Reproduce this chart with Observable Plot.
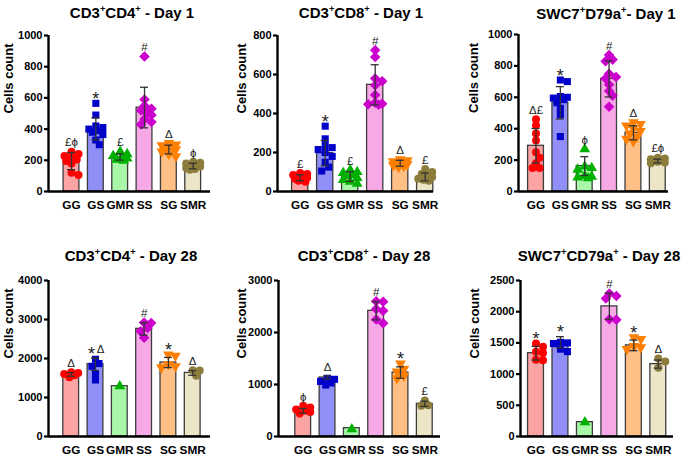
<!DOCTYPE html>
<html>
<head>
<meta charset="utf-8">
<script src="https://cdn.jsdelivr.net/npm/d3@7"></script>
<script src="https://cdn.jsdelivr.net/npm/@observablehq/plot@0.6"></script>
<style>
  body { margin: 0; background: #fff; }
  #fig { position: relative; width: 685px; height: 457px; background: #fff; overflow: hidden; font-family: "Liberation Sans", Arial, sans-serif; }
  .panel { position: absolute; }
  .panel svg g[aria-label="y-axis tick label"] { font-weight: bold; fill: #000; }
  .panel svg g[aria-label="x-axis tick label"] { font-weight: bold; fill: #000; }
  .title { position: absolute; transform: translate(-50%, -50%); white-space: nowrap; font-weight: bold; font-size: 15px; line-height: 1; color: #000; }
  .title sup { font-size: 0.62em; vertical-align: 0.6em; line-height: 0; }
</style>
</head>
<body>
<div id="fig"></div>
<script>
// ---------- categories & styling ----------
const cats = ["GG", "GS", "GMR", "SS", "SG", "SMR"];
const barColors = ["#fca3a3", "#8f8ff7", "#a9f7a9", "#f6a9e6", "#ffbf85", "#ece5c8"];
const dotColors = ["#ff0000", "#0000c8", "#00b000", "#cc00cc", "#ff8000", "#8c7d3c"];

// ---------- Panel 1: CD3+CD4+ Day 1 ----------
const p1Means = [195, 402, 221, 538, 269, 163];
const p1Sd = [55, 70, 20, 130, 28, 18];
const p1Points = [
  [255, 240, 228, 218, 205, 195, 180, 120, 105],
  [565, 490, 420, 410, 400, 390, 380, 365, 330, 300],
  [255, 240, 228, 220, 212, 205, 198],
  [865, 590, 550, 530, 520, 505, 490, 465, 445, 430],
  [310, 300, 295, 290, 280, 270, 255, 240, 225],
  [190, 185, 180, 170, 165, 160, 150, 145, 140]
];
const p1Marks = ["£ϕ", "*", "£", "#", "Δ", "ϕ"];

// ---------- Panel 2: CD3+CD8+ Day 1 ----------
const p2Means = [70, 197, 77, 547, 145, 75];
const p2Sd = [15, 65, 25, 103, 15, 20];
const p2Points = [
  [95, 90, 85, 80, 75, 70, 65, 60, 55, 50],
  [335, 270, 235, 225, 215, 200, 180, 150, 125, 105],
  [110, 100, 95, 85, 80, 70, 60, 50, 40],
  [725, 690, 580, 565, 545, 495, 455, 450, 448, 445],
  [165, 160, 155, 150, 148, 145, 140, 135, 130, 125],
  [115, 100, 90, 80, 75, 65, 60, 55]
];
const p2Marks = ["£", "*", "£", "#", "Δ", "£"];

// ---------- Panel 3: SWC7+D79a+ Day 1 ----------
const p3Means = [291, 565, 162, 717, 374, 194];
const p3Sd = [110, 103, 60, 115, 45, 12];
const p3Points = [
  [460, 420, 370, 325, 250, 215, 180, 150, 150],
  [710, 700, 605, 600, 595, 585, 565, 530, 490, 350],
  [270, 160, 150, 140, 100, 95, 90, 85],
  [870, 840, 830, 750, 730, 720, 680, 640, 610, 540],
  [440, 430, 420, 400, 385, 370, 350, 335, 320],
  [215, 210, 205, 200, 195, 190, 185, 180]
];
const p3Marks = ["Δ£", "*", "ϕ", "#", "Δ", "£ϕ"];

// ---------- Panel 4: CD3+CD4+ Day 28 ----------
const p4Means = [1590, 1855, 1290, 2760, 1897, 1630];
const p4Sd = [45, 160, 0, 160, 130, 60];
const p4Points = [
  [1650, 1630, 1600, 1570, 1520],
  [1980, 1870, 1800, 1600, 1450],
  [1290],
  [2920, 2910, 2780, 2700, 2530],
  [2100, 2070, 1850, 1800, 1770],
  [1700, 1690, 1560]
];
const p4Marks = ["Δ", "*Δ", "", "#", "*", "Δ"];

// ---------- Panel 5: CD3+CD8+ Day 28 ----------
const p5Means = [494, 1135, 160, 2417, 1230, 628];
const p5Sd = [45, 30, 0, 175, 110, 50];
const p5Points = [
  [590, 560, 520, 500, 470, 440],
  [1120, 1100, 1060, 1030, 990],
  [140],
  [2600, 2590, 2450, 2420, 2250, 2180],
  [1400, 1300, 1250, 1170, 1120],
  [690, 600, 590]
];
const p5Marks = ["ϕ", "Δ", "", "#", "*", "£"];

// ---------- Panel 6: SWC7+CD79a+ Day 28 ----------
const p6Means = [1335, 1510, 230, 2085, 1460, 1160];
const p6Sd = [110, 90, 0, 210, 85, 65];
const p6Points = [
  [1490, 1440, 1360, 1340, 1230, 1220],
  [1510, 1500, 1490, 1400, 1360],
  [230],
  [2290, 2250, 2210, 1880, 1870],
  [1590, 1560, 1450, 1430, 1400],
  [1250, 1200, 1100]
];
const p6Marks = ["*", "*", "", "#", "*", "Δ"];

const titles = [
  "CD3<sup>+</sup>CD4<sup>+</sup> - Day 1",
  "CD3<sup>+</sup>CD8<sup>+</sup> - Day 1",
  "SWC7<sup>+</sup>D79a<sup>+</sup>- Day 1",
  "CD3<sup>+</sup>CD4<sup>+</sup> - Day 28",
  "CD3<sup>+</sup>CD8<sup>+</sup> - Day 28",
  "SWC7<sup>+</sup>CD79a<sup>+</sup> - Day 28"
];
const yMax = [1000, 800, 1000, 4000, 3000, 2500];
const yStep = [200, 200, 200, 1000, 1000, 500];

// ---------- layout (pixels) ----------
const layout = [
  {left: 0,   top: 0,   w: 228, h: 228, mL: 48, end: 210, fTop: 35, fBot: 191, c0: 71,   c5: 192.7, labelX: 8.3,  tx: 132, ty: 12},
  {left: 228, top: 0,   w: 227, h: 228, mL: 49, end: 205, fTop: 35, fBot: 191, c0: 71.7, c5: 196.7, labelX: 13.3, tx: 361, ty: 12},
  {left: 455, top: 0,   w: 230, h: 228, mL: 63, end: 213, fTop: 34, fBot: 191, c0: 80.5, c5: 202.3, labelX: 18.7, tx: 606, ty: 13},
  {left: 0,   top: 228, w: 228, h: 229, mL: 48, end: 210, fTop: 52, fBot: 208, c0: 70.7, c5: 192.2, labelX: 8.3,  tx: 131, ty: 255},
  {left: 228, top: 228, w: 227, h: 229, mL: 50, end: 212, fTop: 52, fBot: 208, c0: 74.7, c5: 196.3, labelX: 13.3, tx: 364, ty: 255},
  {left: 455, top: 228, w: 230, h: 229, mL: 65, end: 218, fTop: 52, fBot: 208, c0: 80.5, c5: 202.8, labelX: 19,   tx: 599, ty: 255}
];

const triangleDown = {
  draw(context, size) {
    const s3 = Math.sqrt(3);
    const y = -Math.sqrt(size / (s3 * 3));
    context.moveTo(0, -y * 2);
    context.lineTo(-s3 * y, y);
    context.lineTo(s3 * y, y);
    context.closePath();
  }
};
const diamondSq = {
  draw(context, size) {
    const r = Math.sqrt(size / 2) * 1.05;
    context.moveTo(0, -r);
    context.lineTo(r, 0);
    context.lineTo(0, r);
    context.lineTo(-r, 0);
    context.closePath();
  }
};
const dotSymbols = ["circle", "square", "triangle", diamondSq, triangleDown, "circle"];

const panels = [
  [p1Means, p1Sd, p1Points, p1Marks],
  [p2Means, p2Sd, p2Points, p2Marks],
  [p3Means, p3Sd, p3Points, p3Marks],
  [p4Means, p4Sd, p4Points, p4Marks],
  [p5Means, p5Sd, p5Points, p5Marks],
  [p6Means, p6Sd, p6Points, p6Marks]
];

// spread overlapping points horizontally (pixel offsets)
function spread(values, pxPerUnit) {
  const order = values.map((v, k) => k).sort((a, b) => values[b] - values[a]);
  const placed = [];
  const offs = new Array(values.length).fill(0);
  const cands = [0, 3.5, -3.5, 7, -7, 1.75, -1.75, 5.25, -5.25];
  for (const k of order) {
    const py = values[k] * pxPerUnit;
    let best = 0, bestD = -1;
    for (const c of cands) {
      let dmin = Infinity;
      for (const p of placed) dmin = Math.min(dmin, Math.hypot(c - p.x, py - p.y));
      if (dmin >= 5.5) { best = c; break; }
      if (dmin > bestD) { bestD = dmin; best = c; }
    }
    placed.push({x: best, y: py});
    offs[k] = best;
  }
  return offs;
}

const fig = document.getElementById("fig");

panels.forEach(([means, sds, points, labels], p) => {
  const L = layout[p];
  const stepPx = (L.c5 - L.c0) / 5;
  const pxPerUnit = (L.fBot - L.fTop) / yMax[p];
  const x0 = (L.mL - L.c0) / stepPx;
  const x1 = (L.end - L.c0) / stepPx;

  const bars = cats.map((c, i) => ({i, mean: means[i], sd: sds[i]}));
  const dots = [];
  points.forEach((vals, i) => {
    const offs = spread(vals, pxPerUnit);
    vals.forEach((v, k) => dots.push({i, v, x: i + offs[k] / stepPx}));
  });
  const errs = bars.filter(d => d.sd > 0);
  const cap = 4 / stepPx;

  const stars = [], others = [];
  bars.forEach(d => {
    const lab = labels[d.i];
    if (!lab) return;
    const top = Math.max(d.mean + d.sd, d3.max(points[d.i]));
    const hasStar = lab.startsWith("*");
    const rest = hasStar ? lab.slice(1) : lab;
    if (hasStar) stars.push({x: d.i + (rest ? -4 / stepPx : 0), top});
    if (rest) others.push({x: d.i + (hasStar ? 5 / stepPx : 0), top, text: rest});
  });

  const chart = Plot.plot({
    width: L.w,
    height: L.h,
    marginLeft: L.mL,
    marginRight: L.w - L.end,
    marginTop: L.fTop,
    marginBottom: L.h - L.fBot,
    style: {fontFamily: "'Liberation Sans', Arial, sans-serif", fontWeight: "bold", color: "#000", background: "transparent", overflow: "visible"},
    x: {domain: [x0, x1], axis: null},
    y: {domain: [0, yMax[p]], axis: null},
    color: {type: "identity"},
    marks: [
      Plot.rectY(bars, {x1: d => d.i - 0.325, x2: d => d.i + 0.325, y1: 0, y2: "mean", fill: d => barColors[d.i], stroke: "#3d3d3d", strokeWidth: 1.3}),
      ...cats.map((c, i) => Plot.dot(dots.filter(d => d.i === i), {x: "x", y: "v", r: 4, symbol: dotSymbols[i], fill: dotColors[i], stroke: "none"})),
      Plot.ruleX(errs, {x: "i", y1: d => d.mean - d.sd, y2: d => d.mean + d.sd, stroke: "#333", strokeWidth: 1.3}),
      Plot.ruleY(errs, {x1: d => d.i - cap, x2: d => d.i + cap, y: d => d.mean + d.sd, stroke: "#333", strokeWidth: 1.3}),
      Plot.ruleY(errs, {x1: d => d.i - cap, x2: d => d.i + cap, y: d => d.mean - d.sd, stroke: "#333", strokeWidth: 1.3}),
      Plot.ruleY([0], {stroke: "black", strokeWidth: 2.4}),
      Plot.ruleX([x0], {stroke: "black", strokeWidth: 2.4}),
      Plot.axisY({ticks: d3.range(0, yMax[p] + 1, yStep[p]), tickFormat: d => String(d), tickSize: 4, tickPadding: 2, stroke: "black", strokeWidth: 2.2, fill: "#000", fontSize: 11, fontWeight: "bold", label: null}),
      Plot.axisX({ticks: [0, 1, 2, 3, 4, 5], tickFormat: i => cats[i], tickSize: 0, tickPadding: 9, fill: "#000", fontSize: 11.8, fontWeight: "bold", label: null}),
      Plot.text(["Cells count"], {text: d => d, frameAnchor: "left", rotate: -90, dx: L.labelX - L.mL, fontSize: 13, fontWeight: "bold", fill: "#000"}),
      Plot.text(stars, {x: "x", y: "top", text: () => "*", fontSize: 18, fontWeight: "normal", dy: -4, fill: "#222"}),
      Plot.text(others, {x: "x", y: "top", text: "text", fontSize: 11.5, fontWeight: "normal", dy: -9, fill: "#222"})
    ]
  });

  const div = document.createElement("div");
  div.className = "panel";
  div.style.left = L.left + "px";
  div.style.top = L.top + "px";
  div.appendChild(chart);
  fig.appendChild(div);

  const t = document.createElement("div");
  t.className = "title";
  t.style.left = L.tx + "px";
  t.style.top = L.ty + "px";
  t.innerHTML = titles[p];
  fig.appendChild(t);
});
</script>
</body>
</html>
